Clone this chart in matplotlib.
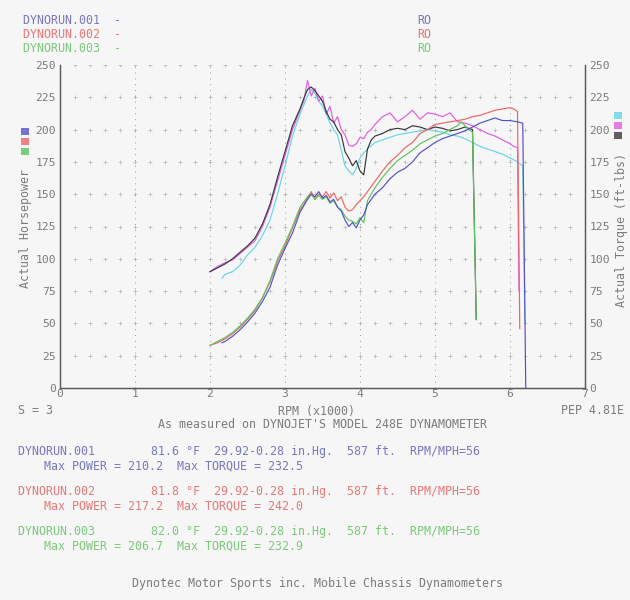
import matplotlib
matplotlib.use('Agg')
import matplotlib.pyplot as plt
from matplotlib.patches import Rectangle
import numpy as np

# rpm in x1000
rpm_001 = [2.16, 2.2, 2.3, 2.4, 2.5, 2.6, 2.7, 2.8, 2.9, 3.0, 3.1, 3.2, 3.3, 3.35, 3.4, 3.45, 3.5, 3.55,
           3.6, 3.65, 3.7, 3.75, 3.8, 3.85, 3.9, 3.95, 4.0, 4.05, 4.1, 4.2, 4.3, 4.4, 4.5, 4.6, 4.7, 4.8,
           4.9, 5.0, 5.1, 5.2, 5.3, 5.4, 5.5, 5.6, 5.7, 5.8, 5.9, 6.0, 6.1, 6.17]
hp_001 = [35, 36, 40, 45, 51, 58, 67, 78, 95, 108, 120, 136, 146, 150, 148, 152, 147, 149,
          144, 146, 140, 137, 130, 125, 128, 124, 130, 134, 142, 150, 155, 162, 167, 170, 175, 182,
          186, 190, 193, 195, 197, 199, 202, 205, 207, 209, 207, 207, 206, 205]
tq_001 = [85, 88, 90, 95, 103, 109, 118, 130, 150, 172, 195, 212, 226, 231, 228, 222, 218, 212,
          205, 200, 196, 184, 172, 168, 165, 170, 178, 182, 185, 190, 192, 194, 196, 197, 198, 199,
          200, 199, 198, 196, 195, 193, 190, 187, 185, 183, 181, 178, 175, 172]

rpm_002 = [2.0, 2.1, 2.2, 2.3, 2.4, 2.5, 2.6, 2.7, 2.8, 2.9, 3.0, 3.1, 3.2, 3.25, 3.3, 3.35, 3.4, 3.45,
           3.5, 3.55, 3.6, 3.65, 3.7, 3.75, 3.8, 3.85, 3.9, 3.95, 4.0, 4.05, 4.1, 4.15, 4.2, 4.3, 4.4,
           4.5, 4.6, 4.7, 4.8, 4.9, 5.0, 5.1, 5.2, 5.3, 5.4, 5.5, 5.6, 5.7, 5.8, 5.9, 6.0, 6.05, 6.1]
hp_002 = [33, 35, 38, 42, 47, 53, 60, 70, 82, 98, 110, 124, 138, 142, 147, 152, 146, 150,
          148, 152, 147, 151, 145, 148, 140, 137, 138, 142, 145, 148, 152, 156, 160, 168, 175,
          180, 186, 190, 197, 200, 204, 205, 206, 207, 208, 210, 211, 213, 215, 216, 217, 216, 214]
tq_002 = [90, 94, 97, 99, 104, 109, 114, 125, 140, 160, 180, 200, 215, 222, 238, 226, 232, 222,
          226, 212, 218, 205, 210, 200, 196, 188, 187, 189, 194, 193, 198, 200, 204, 210, 213,
          206, 210, 215, 208, 213, 212, 210, 213, 206, 205, 203, 200, 197, 195, 192, 189, 187, 186]

rpm_003 = [2.0, 2.1, 2.2, 2.3, 2.4, 2.5, 2.6, 2.7, 2.8, 2.9, 3.0, 3.1, 3.2, 3.25, 3.3, 3.35, 3.4, 3.45,
           3.5, 3.55, 3.6, 3.65, 3.7, 3.75, 3.8, 3.85, 3.9, 3.95, 4.0, 4.05, 4.1, 4.15, 4.2, 4.3, 4.4,
           4.5, 4.6, 4.7, 4.8, 4.9, 5.0, 5.1, 5.2, 5.3, 5.35, 5.4, 5.45, 5.5]
hp_003 = [33, 36, 39, 43, 48, 54, 61, 70, 83, 100, 112, 125, 140, 144, 148, 150, 146, 149,
          146, 148, 143, 145, 140, 138, 133, 130, 129, 127, 132, 128, 145, 150, 155, 163, 170,
          176, 180, 184, 189, 192, 195, 197, 200, 203, 206, 203, 200, 198]
tq_003 = [90, 93, 96, 100, 105, 110, 116, 127, 142, 163, 183, 203, 216, 224, 231, 233, 230, 226,
          222, 214, 208, 206, 200, 196, 183, 178, 172, 176, 168, 165, 185, 192, 195, 197, 200,
          201, 200, 203, 202, 200, 202, 201, 199, 200, 201, 202, 201, 200]

# where each run's trace falls off at the end
end_001 = [(6.2, 50), (6.21, 0)]
end_002_hp = (6.13, 46)
end_002_tq = (6.12, 75)
end_003 = (5.55, 53)

runs = ['DYNORUN.001', 'DYNORUN.002', 'DYNORUN.003']
temps = ['81.6', '81.8', '82.0']
max_power = ['210.2', '217.2', '206.7']
max_torque = ['232.5', '242.0', '232.9']

hp_colors = ['#5252c8', '#f06464', '#5cc45c']
tq_colors = ['#66d6e6', '#e25ae2', '#383838']
txt_colors = ['#7878c0', '#e67878', '#7cc87c']
gray = '#7c7c7c'
mono = 'DejaVu Sans Mono'
fs = 8.4

W, H = 630, 600
fig = plt.figure(figsize=(6.3, 6.0), dpi=100)
fig.patch.set_facecolor('#f6f6f6')


def P(x, y):
    return x / W, 1 - y / H


def ftext(x, y, s, color=gray, ha='left', **kw):
    fig.text(*P(x, y), s, color=color, ha=ha, va='center', family=mono, fontsize=fs, **kw)


ax = fig.add_axes([60 / W, 1 - 388 / H, 525 / W, 323 / H])
ax.set_facecolor('none')
ax.set_xlim(0, 7)
ax.set_ylim(0, 250)
ax2 = ax.twinx()
ax2.set_ylim(0, 250)

for a in (ax, ax2):
    for side in ['left', 'right', 'bottom']:
        a.spines[side].set_color('#5a5a5a')
        a.spines[side].set_linewidth(0.9)
    a.spines['top'].set_visible(False)
    a.set_yticks(range(0, 251, 25))
    a.tick_params(length=0, labelsize=fs - 0.2, labelcolor=gray, pad=3)
    for lab in a.get_yticklabels():
        lab.set_family(mono)
ax.set_xticks(range(8))
ax.tick_params(axis='x', pad=1)
for lab in ax.get_xticklabels():
    lab.set_family(mono)

# dotted grid of the dyno sheet
gx, gy = np.meshgrid(np.arange(0.2, 7.0, 0.2), np.arange(25, 251, 25))
ax.plot(gx.ravel(), gy.ravel(), '+', color='#b4b4b4', ms=2.5, mew=0.5, zorder=0)
for xv in range(1, 7):
    ax.axvline(xv, color='#9a9a9a', lw=0.7, ls=(0, (1, 5)), zorder=0)

lw = 0.85
# torque
ax2.plot(rpm_001 + [end_001[0][0]], tq_001 + [end_001[0][1]], color=tq_colors[0], lw=lw)
ax2.plot(rpm_002 + [end_002_tq[0]], tq_002 + [end_002_tq[1]], color=tq_colors[1], lw=lw)
ax2.plot(rpm_003 + [end_003[0]], tq_003 + [end_003[1]], color=tq_colors[2], lw=lw)
# horsepower
ax2.plot(rpm_002 + [end_002_hp[0]], hp_002 + [end_002_hp[1]], color=hp_colors[1], lw=lw)
ax2.plot(rpm_003 + [end_003[0]], hp_003 + [end_003[1]], color=hp_colors[2], lw=lw)
ax2.plot(rpm_001 + [end_001[1][0]], hp_001 + [end_001[1][1]], color=hp_colors[0], lw=lw)

# axis titles
fig.text(*P(26, 228), 'Actual Horsepower', rotation=90, color=gray, ha='center', va='center',
         family=mono, fontsize=fs)
fig.text(*P(621, 230), 'Actual Torque (ft-lbs)', rotation=90, color=gray, ha='center', va='center',
         family=mono, fontsize=fs)

# little colour keys
for i in range(3):
    fig.patches.append(Rectangle(P(21, 135 + 10 * i), 8 / W, 7 / H, transform=fig.transFigure,
                                 facecolor=hp_colors[i], edgecolor='none', alpha=0.8))
    fig.patches.append(Rectangle(P(614, 119 + 10 * i), 8 / W, 7 / H, transform=fig.transFigure,
                                 facecolor=tq_colors[i], edgecolor='none', alpha=0.8))

# header
for i in range(3):
    ftext(23, 21 + 14 * i, runs[i] + '  -', color=txt_colors[i])
    ftext(417, 21 + 14 * i, 'RO', color=txt_colors[i])

ftext(18, 411, 'S = 3')
ftext(316, 411, 'RPM (x1000)', ha='center')
ftext(624, 411, 'PEP 4.81E', ha='right')
ftext(322, 425, "As measured on DYNOJET'S MODEL 248E DYNAMOMETER", ha='center')

for i in range(3):
    y0 = 452 + 40 * i
    ftext(18, y0, runs[i] + ' ' * 8 + temps[i] + ' °F  29.92-0.28 in.Hg.  587 ft.  RPM/MPH=56',
          color=txt_colors[i])
    ftext(44, y0 + 14, 'Max POWER = ' + max_power[i] + '  Max TORQUE = ' + max_torque[i],
          color=txt_colors[i])

ftext(318, 584, 'Dynotec Motor Sports inc. Mobile Chassis Dynamometers', ha='center')

fig.savefig('out.png', dpi=100, facecolor=fig.get_facecolor())
